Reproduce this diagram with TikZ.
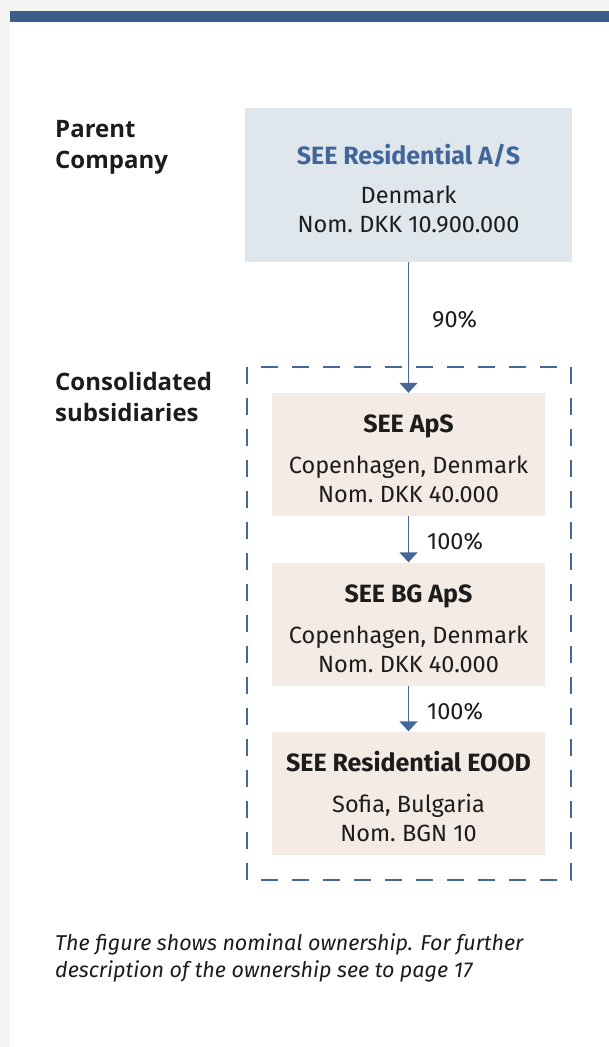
\documentclass[tikz,border=0pt]{standalone}
\usepackage{fontspec}
\setmainfont{Fira Sans}
\newfontfamily\sidefont{Open Sans}
\usetikzlibrary{arrows.meta}
\definecolor{barblue}{HTML}{3A5D8A}
\definecolor{titleblue}{HTML}{43669A}
\definecolor{lineblue}{HTML}{45679A}
\definecolor{parentfill}{HTML}{DFE7ED}
\definecolor{subfill}{HTML}{F4EBE4}
\definecolor{ink}{HTML}{1C1C1C}
\begin{document}
\begin{tikzpicture}[x=1pt,y=-1pt,
  co/.style={rectangle, inner sep=0pt, align=center, text=ink, font=\fontsize{23.5}{29}\selectfont},
  parent/.style={co, fill=parentfill, minimum width=327pt, minimum height=154pt},
  sub/.style={co, fill=subfill, minimum width=273pt, minimum height=123pt},
  own/.style={draw=lineblue, line width=1.4pt, -{Triangle[length=10pt,width=18pt]}},
  pct/.style={anchor=west, inner sep=0pt, text=ink, font=\fontsize{23.5}{28}\selectfont},
  side/.style={anchor=west, inner sep=0pt, align=left, text=ink, font=\sidefont\bfseries\fontsize{24}{31}\selectfont}]
\newcommand\ttl[1]{{\bfseries\fontsize{25}{29}\selectfont\rule{0pt}{27pt}#1}}
% page
\fill[black!4] (0,0) rectangle (609,1047);
\fill[white] (10,12) rectangle (609,1047);
\fill[barblue] (10,11) rectangle (609,22);
\useasboundingbox (0,0) rectangle (609,1047);
% left labels
\node[side] (lpar) at (55,147) {Parent\\Company};
\node[side] (lsub) at (55,397) {Consolidated\\subsidiaries};
% group frame
\draw[lineblue, line width=1.3pt, dash pattern=on 17pt off 14pt] (247,367) rectangle (571,880);
% companies
\node[parent] (see) at (408.5,185) {{\color{titleblue}\ttl{SEE Residential A/S}}\\[10pt]Denmark\\Nom.\ DKK 10.900.000};
\node[sub] (aps) at (408.5,454.5) {\ttl{SEE ApS}\\[12pt]Copenhagen, Denmark\\Nom.\ DKK 40.000};
\node[sub] (bg) at (408.5,624) {\ttl{SEE BG ApS}\\[12pt]Copenhagen, Denmark\\Nom.\ DKK 40.000};
\node[sub] (eood) at (408.5,793) {\ttl{SEE Residential EOOD}\\[12pt]Sofia, Bulgaria\\Nom.\ BGN 10};
% ownership
\draw[own] (see) -- (aps);
\draw[own] (aps) -- (bg);
\draw[own] (bg) -- (eood);
\node[pct] (p1) at (432,320) {90\%};
\node[pct] (p2) at (427,542) {100\%};
\node[pct] (p3) at (427,711) {100\%};
% note
\node[anchor=west, inner sep=0pt, align=left, text=ink, font=\itshape\fontsize{21.5}{27}\selectfont] (note) at (55,958)
  {The figure shows nominal ownership. For further\\description of the ownership see to page 17};
\end{tikzpicture}
\end{document}
